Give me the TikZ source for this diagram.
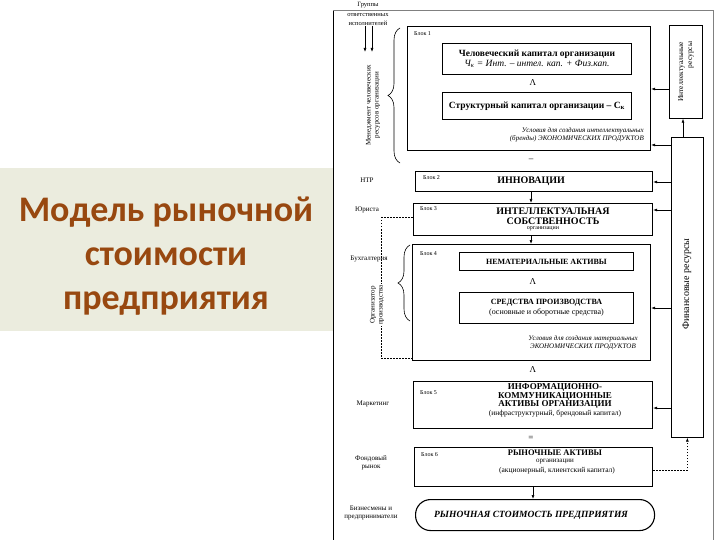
\documentclass[tikz,border=0pt]{standalone}
\usepackage{fontspec}
\setmainfont{Liberation Serif}
\newfontfamily\titlefont{Carlito}
\usetikzlibrary{arrows.meta,decorations.pathreplacing}
\definecolor{panelbg}{RGB}{235,236,222}
\definecolor{titlebrown}{RGB}{152,72,16}
\tikzset{
  blk/.style={draw, line width=1.2pt, anchor=north west, inner sep=0pt},
  inbox/.style={draw, line width=0.9pt, anchor=north west, inner sep=0pt, align=center},
  num/.style={font=\fontsize{6}{6}\selectfont, inner sep=0pt, anchor=west},
  side/.style={font=\fontsize{7}{8}\selectfont, inner sep=0pt, align=center},
  cond/.style={font=\itshape\fontsize{7}{8}\selectfont, inner sep=0pt, align=center},
  capt/.style={font=\bfseries\fontsize{10}{9.5}\selectfont, inner sep=0pt, align=center},
  sgn/.style={font=\fontsize{9}{9}\selectfont, inner sep=0pt},
  conn/.style={-{Latex[length=4pt,width=3pt]}, line width=0.6pt},
  dashes/.style={dash pattern=on 1.5pt off 1.5pt, line width=0.6pt},
  bracer/.style={decorate, decoration={brace, amplitude=12pt}, line width=0.6pt},
}
\begin{document}
\begin{tikzpicture}[x=1pt,y=-1pt]
  \useasboundingbox (0,0) rectangle (720,540);
  % title panel
  \fill[panelbg] (0,168) rectangle (333,331);
  \node[font=\titlefont\bfseries\fontsize{36}{44}\selectfont, text=titlebrown, align=center] (title) at (166,256) {Модель рыночной\\стоимости\\предприятия};
  % page frame of the scheme
  \draw[line width=1pt] (333,540) -- (333,10);
  \draw[gray, line width=0.6pt] (333,10) -- (713,10) -- (713,540);

  % block 1
  \node[blk, minimum width=243pt, minimum height=124pt] (blk1) at (407,26) {};
  \node[num] (n1) at (414,34) {Блок 1};
  \node[inbox, minimum width=189pt, minimum height=31pt, font=\fontsize{9.5}{10}\selectfont] (hk) at (442,43)
    {\bfseries Человеческий капитал организации\\ \itshape Ч\textsubscript{к} = Инт. – интел. кап. + Физ.кап.};
  \node[sgn] (and1) at (533,83) {Λ};
  \node[inbox, minimum width=189pt, minimum height=27pt, font=\bfseries\fontsize{9.5}{10}\selectfont] (sk) at (442,92)
    {Структурный капитал организации – С\textsubscript{к}};
  \node[cond, align=right, anchor=east] (c1) at (644,135) {Условия для создания интеллектуальных\\(бренды) ЭКОНОМИЧЕСКИХ ПРОДУКТОВ};
  \node[sgn] (eq1) at (531,160) {–};

  % block 2
  \node[blk, minimum width=237pt, minimum height=20pt, font=\bfseries\fontsize{10}{10}\selectfont] (blk2) at (415,171) {\hspace*{-6pt}ИННОВАЦИИ};
  \node[num] (n2) at (423,178) {Блок 2};

  % block 3
  \node[blk, minimum width=239pt, minimum height=32pt] (blk3) at (413,203) {};
  \node[num] (n3) at (420,209) {Блок 3};
  \node[capt] (ip) at (553,216) {ИНТЕЛЛЕКТУАЛЬНАЯ\\СОБСТВЕННОСТЬ};
  \node[font=\fontsize{6}{6}\selectfont, inner sep=0pt] (ipo) at (543,229) {организации};

  % block 4
  \node[blk, minimum width=238pt, minimum height=116pt] (blk4) at (412,244) {};
  \node[num] (n4) at (420,254) {Блок 4};
  \node[inbox, minimum width=174pt, minimum height=18pt, font=\bfseries\fontsize{8}{9}\selectfont] (nma) at (459,252) {НЕМАТЕРИАЛЬНЫЕ АКТИВЫ};
  \node[sgn] (and2) at (533,282) {Λ};
  \node[inbox, minimum width=174pt, minimum height=31pt, font=\fontsize{8}{10}\selectfont] (sp) at (459,292)
    {\bfseries СРЕДСТВА ПРОИЗВОДСТВА\\(основные и оборотные средства)};
  \node[cond] (c2) at (583,343) {Условия для создания материальных\\ЭКОНОМИЧЕСКИХ ПРОДУКТОВ};
  \node[sgn] (and3) at (533,370) {Λ};

  % block 5
  \node[blk, minimum width=239pt, minimum height=47pt] (blk5) at (413,381) {};
  \node[num] (n5) at (420,393) {Блок 5};
  \node[font=\bfseries\fontsize{9}{8.7}\selectfont, inner sep=0pt, align=center] (ika) at (555,396) {ИНФОРМАЦИОННО-\\КОММУНИКАЦИОННЫЕ\\АКТИВЫ ОРГАНИЗАЦИИ};
  \node[font=\fontsize{7.5}{8}\selectfont, inner sep=0pt] (ikb) at (555,414) {(инфраструктурный, брендовый капитал)};
  \node[sgn] (eq2) at (531,438) {=};

  % block 6
  \node[blk, minimum width=238pt, minimum height=39pt] (blk6) at (414,447) {};
  \node[num] (n6) at (421,455) {Блок 6};
  \node[font=\bfseries\fontsize{8.5}{8.5}\selectfont, inner sep=0pt] (ra) at (555,453) {РЫНОЧНЫЕ АКТИВЫ};
  \node[font=\fontsize{7}{7}\selectfont, inner sep=0pt] (rao) at (555,462) {организации};
  \node[font=\fontsize{7.5}{8}\selectfont, inner sep=0pt] (rab) at (557,471) {(акционерный, клиентский капитал)};

  % market value
  \node[draw, line width=1.1pt, rounded corners=15pt, anchor=north west, minimum width=239pt, minimum height=31pt,
        font=\bfseries\itshape\fontsize{9.5}{10}\selectfont] (mv) at (415,499) {\hspace*{-8pt}РЫНОЧНАЯ СТОИМОСТЬ ПРЕДПРИЯТИЯ};

  % resources on the right
  \node[draw, line width=0.7pt, anchor=north west, minimum width=33pt, minimum height=93pt, inner sep=0pt] (ires) at (669,25) {};
  \node[side, rotate=90, align=right, font=\fontsize{7.5}{9}\selectfont] (irt) at (ires.center) {Интеллектуальные\\ресурсы};
  \node[draw, line width=0.7pt, anchor=north west, minimum width=32pt, minimum height=300pt, inner sep=0pt] (fin) at (671,137) {};
  \node[rotate=90, font=\fontsize{10}{10}\selectfont, inner sep=0pt] (fint) at (687,284) {Финансовые ресурсы};

  % left side: responsible groups
  \node[side, font=\fontsize{6.5}{9.5}\selectfont] (grp) at (368,14) {Группы\\ответственных\\исполнителей};
  \coordinate (ga1) at (365,52);
  \coordinate (ga2) at (372,52);
  \draw[conn] (grp.south -| ga1) -- (ga1);
  \draw[conn] (grp.south -| ga2) -- (ga2);
  \draw[bracer] (400,163) -- (400,28);
  \node[side, rotate=90] (hrm) at (373,105) {Менеджмент человеческих\\ресурсов организации};
  \node[side] (ntr) at (367,180) {НТР};
  \node[side] (jur) at (367,210) {Юриста};
  \node[side] (buh) at (369,259) {Бухгалтерия};
  \draw[bracer] (410,321) -- (410,245);
  \coordinate (jurdrop) at (381,217);
  \draw[dashes] (jurdrop) -- (blk3.west |- jurdrop);
  \draw[dashes] (jurdrop) |- (blk4.west |- 0,358);
  \node[side, rotate=90, fill=white, inner sep=1pt] (org) at (377,305) {Организатор\\производства};
  \node[side] (mkt) at (373,404) {Маркетинг};
  \node[side] (fond) at (371,463) {Фондовый\\рынок};
  \node[side] (biz) at (371,513) {Бизнесмены и\\предприниматели};

  % connectors
  \draw[conn] (blk2.south -| 531,0) -- (blk3.north -| 531,0);
  \draw[conn] (blk3.south -| 531,0) -- (blk4.north -| 531,0);
  \draw[conn] (blk6.south -| 533,0) -- (mv.north -| 533,0);
  \draw[conn] (ires.west |- 0,89) -- (blk1.east |- 0,89);
  \draw[conn] (fin.north -| 683,0) -- (ires.south -| 683,0);
  \foreach \yy/\tgt in {145/blk1, 182/blk2, 210/blk3, 308/blk4, 408/blk5}
    \draw[conn] (fin.west |- 0,\yy) -- (\tgt.east |- 0,\yy);
  \draw[conn, dashes] (blk6.east |- 0,470) -| (fin.south);
\end{tikzpicture}
\end{document}
